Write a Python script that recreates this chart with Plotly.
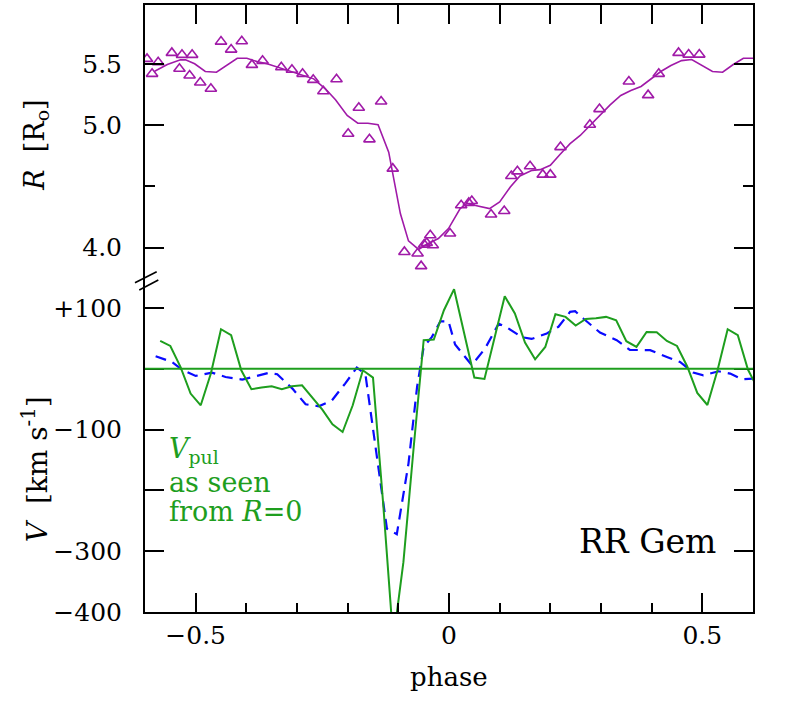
"""RR Gem: radius and velocity curves against pulsation phase."""
import plotly.graph_objects as go

FONT = "DejaVu Serif"
PURPLE = "#a01aa8"
GREEN = "#1e9e1e"
BLUE = "#0a0aff"

# radius curve (solid) and measured radii (triangles), top panel
r_phase = [-0.581, -0.556, -0.530, -0.520, -0.502, -0.481, -0.459, -0.438, -0.418,
           -0.399, -0.379, -0.359, -0.339, -0.313, -0.287, -0.267, -0.244, -0.224,
           -0.201, -0.180, -0.160, -0.140, -0.119, -0.106, -0.096, -0.080, -0.060,
           -0.044, -0.021, -0.001, 0.022, 0.035, 0.056, 0.080, 0.100, 0.121, 0.140,
           0.164, 0.180, 0.200, 0.219, 0.239, 0.259, 0.278, 0.298, 0.318, 0.339,
           0.359, 0.379, 0.398, 0.418, 0.438, 0.459, 0.479, 0.499, 0.520, 0.540,
           0.561, 0.581, 0.600]
r_model = [5.439, 5.494, 5.532, 5.532, 5.500, 5.437, 5.431, 5.491, 5.545,
           5.545, 5.518, 5.500, 5.472, 5.437, 5.404, 5.377, 5.296, 5.206,
           5.078, 5.015, 5.015, 5.002, 4.779, 4.494, 4.277, 4.054, 3.984,
           4.027, 4.073, 4.155, 4.318, 4.359, 4.339, 4.318, 4.372, 4.494, 4.584,
           4.630, 4.636, 4.671, 4.760, 4.848, 4.915, 4.997, 5.084, 5.165, 5.241,
           5.282, 5.315, 5.372, 5.437, 5.486, 5.526, 5.535, 5.486, 5.437, 5.431,
           5.494, 5.545, 5.545]

obs_phase = [-0.596, -0.586, -0.574, -0.547, -0.532, -0.527, -0.512, -0.507, -0.491,
             -0.470, -0.450, -0.430, -0.409, -0.389, -0.368, -0.331, -0.310, -0.289,
             -0.268, -0.248, -0.222, -0.199, -0.178, -0.157, -0.134, -0.111, -0.088,
             -0.062, -0.055, -0.049, -0.044, -0.037, -0.032, 0.002, 0.024, 0.039,
             0.045, 0.083, 0.109, 0.123, 0.135, 0.160, 0.185, 0.200, 0.220, 0.278,
             0.297, 0.355, 0.393, 0.414, 0.453, 0.473, 0.494]
obs_r = [5.540, 5.418, 5.513, 5.589, 5.459, 5.573, 5.404, 5.573, 5.347,
         5.296, 5.681, 5.616, 5.684, 5.491, 5.524, 5.472, 5.451, 5.418,
         5.369, 5.276, 5.374, 4.929, 5.141, 4.883, 5.192, 4.644, 3.964,
         3.951, 3.848, 4.024, 4.037, 4.100, 4.019, 4.114, 4.345, 4.364,
         4.380, 4.269, 4.298, 4.584, 4.622, 4.663, 4.595, 4.595, 4.820, 5.002,
         5.130, 5.355, 5.244, 5.418, 5.589, 5.575, 5.575]

# pulsation velocity seen from R=0 (green, solid)
v_phase = [-0.57, -0.55, -0.53, -0.51, -0.49, -0.47, -0.45, -0.43, -0.41, -0.39,
           -0.37, -0.35, -0.33, -0.31, -0.29, -0.27, -0.25, -0.23, -0.21, -0.19,
           -0.17, -0.15, -0.13, -0.11, -0.09, -0.07, -0.05, -0.03, -0.01, 0.01,
           0.03, 0.05, 0.07, 0.09, 0.11, 0.13, 0.15, 0.17, 0.19, 0.21,
           0.23, 0.25, 0.27, 0.29, 0.31, 0.33, 0.35, 0.37, 0.39, 0.41,
           0.43, 0.45, 0.47, 0.49, 0.51, 0.53, 0.55, 0.57, 0.59, 0.61]
v_pul = [45.8, 37.5, 3.0, -40.8, -60.1, -7.9, 65.0, 55.1, -2.5, -33.7,
         -31.0, -28.8, -33.7, -28.8, -27.2, -46.4, -67.2, -91.4, -104.0, -60.1,
         -2.5, -14.5, -221.0, -447.0, -318.0, -132.0, 46.9, 48.0, 96.3, 130.9,
         58.0, -14.5, -16.8, 51.0, 119.3, 90.8, 43.1, 15.6, 35.9, 89.7,
         85.3, 71.1, 82.0, 83.1, 85.3, 79.8, 45.3, 35.9, 60.6, 60.1,
         45.8, 37.5, 4.1, -39.8, -59.6, -2.5, 65.0, 55.1, -1.3, -33.7]

# observed radial velocity (blue, dashed)
b_phase = [-0.579, -0.547, -0.527, -0.500, -0.468, -0.441, -0.408, -0.382, -0.356,
           -0.339, -0.309, -0.283, -0.257, -0.231, -0.205, -0.182, -0.165, -0.1225,
           -0.103, -0.080, -0.063, -0.050, -0.034, -0.017, -0.001, 0.012, 0.045,
           0.071, 0.098, 0.114, 0.144, 0.163, 0.193, 0.216, 0.239, 0.249, 0.265,
           0.298, 0.331, 0.357, 0.397, 0.430, 0.456, 0.482, 0.502, 0.532, 0.555,
           0.578, 0.600]
b_vel = [20.6, 11.2, -1.3, -11.8, -6.3, -13.5, -17.8, -11.8, -6.9,
         -9.0, -32.6, -58.4, -61.7, -51.9, -24.4, 2.0, -9.0, -263.0,
         -272.0, -156.0, -30.0, 36.0, 52.0, 78.0, 78.0, 40.0, 6.0,
         33.0, 74.0, 68.0, 52.0, 49.0, 58.0, 69.0, 93.5, 94.6, 82.6,
         59.6, 46.9, 31.0, 30.5, 19.4, 11.2, -6.3, -10.7, -4.1, -7.9,
         -17.3, -16.1]

fig = go.Figure()
fig.add_scatter(x=r_phase, y=r_model, mode="lines", xaxis="x2", yaxis="y2",
                line=dict(color=PURPLE, width=1.6))
fig.add_scatter(x=obs_phase, y=obs_r, mode="markers", xaxis="x2", yaxis="y2",
                marker=dict(symbol="triangle-up-open", size=10, color=PURPLE,
                            line=dict(width=1.6, color=PURPLE)))
fig.add_scatter(x=b_phase, y=b_vel, mode="lines",
                line=dict(color=BLUE, width=2.2, dash="11px,7px"))
fig.add_scatter(x=v_phase, y=v_pul, mode="lines", line=dict(color=GREEN, width=2))
fig.add_shape(type="line", xref="paper", x0=0, x1=1, yref="y", y0=0, y1=0,
              line=dict(color=GREEN, width=2))

# axis-break marks on the left frame
for x0, y0, x1, y1 in [(-0.0165, 0.5425, 0.0192, 0.5606),
                       (-0.0094, 0.5305, 0.0219, 0.5470)]:
    fig.add_shape(type="line", xref="paper", yref="paper", x0=x0, y0=y0, x1=x1, y1=y1,
                  line=dict(color="black", width=1.6))

tick = dict(ticks="inside", tickcolor="black", tickwidth=2, showgrid=False,
            zeroline=False, showline=True, linecolor="black", linewidth=2,
            tickfont=dict(family=FONT, size=25, color="black"))

fig.update_layout(
    width=792, height=722, showlegend=False,
    plot_bgcolor="white", paper_bgcolor="white",
    margin=dict(l=145, r=39, t=5, b=110),
    xaxis=dict(anchor="y", range=[-0.6, 0.6], dtick=0.5, tick0=0, ticklen=19,
               ticklabelstandoff=0,
               minor=dict(dtick=0.1, ticklen=9, ticks="inside", tickcolor="black",
                          tickwidth=2, showgrid=False), **tick),
    xaxis2=dict(anchor="y2", side="top", matches="x", range=[-0.6, 0.6], dtick=0.1,
                ticklen=19, showticklabels=False, **tick),
    yaxis=dict(anchor="x", domain=[0, 0.548], range=[-400, 147], mirror="ticks",
               tickvals=[100, 0, -100, -200, -300, -400],
               ticktext=["+100", "", "\u2212100", "", "\u2212300", "\u2212400"],
               ticklen=19, ticklabelstandoff=16, **tick),
    yaxis2=dict(anchor="x2", domain=[0.548, 1], range=[3.74, 5.98], mirror="ticks",
                tickvals=[4.0, 5.0, 5.5], ticktext=["4.0", "5.0", "5.5"],
                ticklen=19, ticklabelstandoff=16,
                minor=dict(tickvals=[4.5], ticklen=10, ticks="inside",
                           tickcolor="black", tickwidth=2, showgrid=False), **tick),
)

note = dict(xref="paper", yref="paper", showarrow=False, yanchor="middle")
black = dict(family=FONT, size=27, color="black")
fig.add_annotation(text="<i>R</i>  [R<sub>o</sub>]", textangle=-90, x=-0.179, y=0.7685,
                   xanchor="center", font=black, **note)
fig.add_annotation(text="<i>V</i>&nbsp;&nbsp;[km s<sup>-1</sup>]", textangle=-90,
                   x=-0.179, y=0.2356, xanchor="center",
                   font=dict(family=FONT, size=28, color="black"), **note)
fig.add_annotation(text="phase", x=0.5, y=-0.107, xanchor="center",
                   font=dict(family=FONT, size=26, color="black"), **note)
fig.add_annotation(text="RR Gem", x=0.942, y=0.1156, xanchor="right",
                   font=dict(family=FONT, size=33, color="black"), **note)

green = dict(family=FONT, size=27, color=GREEN)
for txt, yy in [("<i>V</i><sub>pul</sub>", 0.266), ("as seen", 0.214),
                ("from <i>R</i>=0", 0.166)]:
    fig.add_annotation(text=txt, x=0.037, y=yy, xanchor="left", font=green, **note)

fig.write_html("out.html", config={"displayModeBar": False},
               post_script="document.body.style.margin = '0';")
